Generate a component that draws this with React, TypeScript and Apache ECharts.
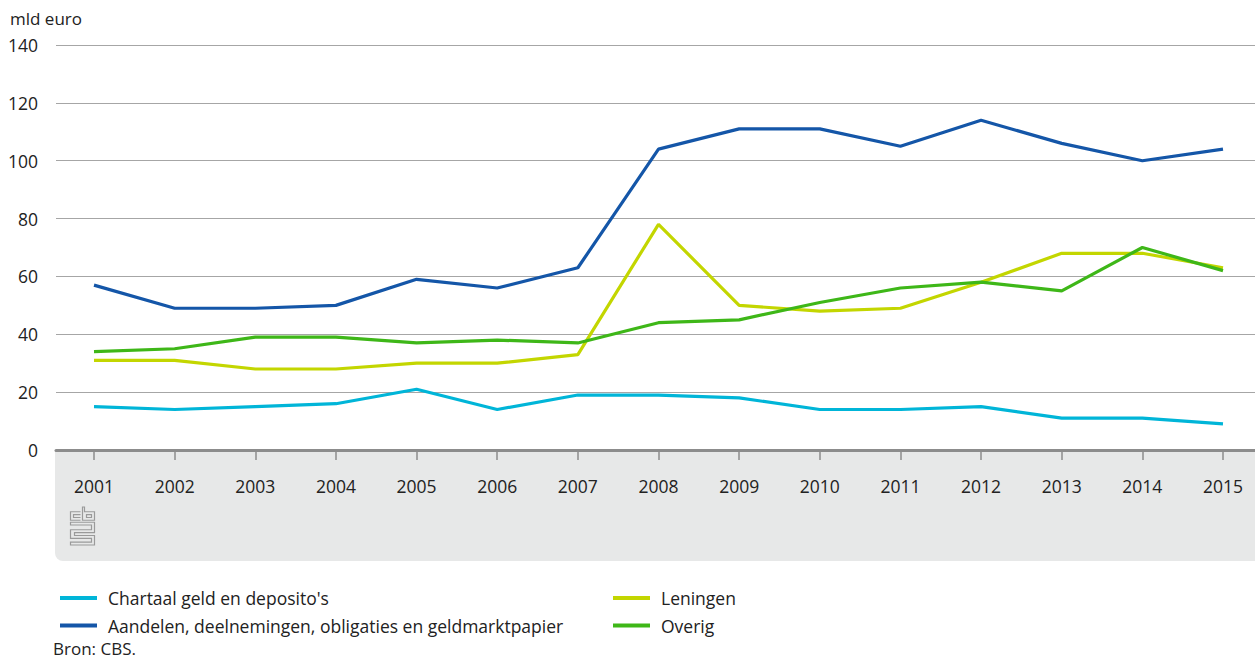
import React, { useEffect, useRef } from "react";
import * as echarts from "echarts";

const years = ["2001","2002","2003","2004","2005","2006","2007","2008","2009","2010","2011","2012","2013","2014","2015"];
const chartaal = [15, 14, 15, 16, 21, 14, 19, 19, 18, 14, 14, 15, 11, 11, 9];
const aandelen = [57, 49, 49, 50, 59, 56, 63, 104, 111, 111, 105, 114, 106, 100, 104];
const leningen = [31, 31, 28, 28, 30, 30, 33, 78, 50, 48, 49, 58, 68, 68, 63];
const overig = [34, 35, 39, 39, 37, 38, 37, 44, 45, 51, 56, 58, 55, 70, 62];
const yTicks = [0, 20, 40, 60, 80, 100, 120, 140];

const names = {
  chartaal: "Chartaal geld en deposito's",
  aandelen: "Aandelen, deelnemingen, obligaties en geldmarktpapier",
  leningen: "Leningen",
  overig: "Overig",
};
const colors = {
  chartaal: "#00b5d8",
  aandelen: "#1456a8",
  leningen: "#c3d600",
  overig: "#3eb718",
};

const FONT = "'Open Sans', 'Noto Sans', sans-serif";
const TXT = "#222";
const FS = 17.5;

let registered = false;
function registerLogo() {
  if (registered) return;
  registered = true;
  const d =
    "M10 5 H0 V14 H10 M10 8 H3 V11 H10 " +
    "M12 0 H14 V5 H24 V14 H12 Z M16 8 H21 V11 H16 Z " +
    "M0 16 H24 V27 H4 V30 H24 V40 H0 V37 H21 V33 H0 V24 H21 V19 H0 Z";
  echarts.graphic.registerShape("cbslogo", echarts.graphic.extendPath(d, {}) as any);
}

export default function App() {
  const ref = useRef<HTMLDivElement>(null);
  useEffect(() => {
    if (!ref.current) return;
    registerLogo();
    const chart = echarts.init(ref.current, undefined, { renderer: "svg" });
    const mk = (key: keyof typeof names, data: number[]) => ({
      name: names[key],
      type: "line",
      xAxisIndex: 1,
      yAxisIndex: 1,
      data,
      symbol: "none",
      lineStyle: { color: colors[key], width: 3.2 },
      itemStyle: { color: colors[key] },
      z: 5,
    });
    const legendCommon = {
      orient: "vertical",
      icon: "rect",
      itemWidth: 37,
      itemHeight: 4,
      itemGap: 9.5,
      textStyle: { fontFamily: FONT, fontSize: FS, lineHeight: 18, color: TXT, padding: [0, 0, 0, 6] },
      selectedMode: false,
    };
    chart.setOption({
      animation: false,
      textStyle: { fontFamily: FONT },
      graphic: [
        {
          type: "rect",
          shape: { x: 55, y: 450, width: 1200, height: 111, r: [0, 0, 0, 8] },
          style: { fill: "#e7e8e8" },
          z: 0,
        },
        {
          type: "cbslogo",
          x: 70.5,
          y: 507,
          scaleX: 1,
          scaleY: 0.95,
          style: { fill: "none", stroke: "#9a9a9a", lineWidth: 1.2 },
          z: 1,
        },
        {
          type: "text",
          x: 10,
          y: 18,
          style: { text: "mld euro", fontFamily: FONT, fontSize: 17, fill: TXT, verticalAlign: "middle", lineHeight: 18 },
        },
        {
          type: "text",
          x: 53,
          y: 648,
          style: { text: "Bron: CBS.", fontFamily: FONT, fontSize: 17, fill: TXT, verticalAlign: "middle", lineHeight: 15 },
        },
      ],
      legend: [
        { ...legendCommon, left: 55, top: 584, data: [names.chartaal, names.aandelen] },
        { ...legendCommon, left: 608, top: 584, data: [names.leningen, names.overig] },
      ],
      grid: [
        { left: 56, top: 45, width: 1199, height: 405 },
        { left: 94, top: 45, width: 1129, height: 405 },
      ],
      xAxis: [
        {
          gridIndex: 0,
          type: "category",
          data: years,
          boundaryGap: false,
          axisLine: { show: true, lineStyle: { color: "#8c8c8c", width: 3 } },
          axisTick: { show: false },
          axisLabel: { show: false },
          splitLine: { show: false },
          z: 3,
        },
        {
          gridIndex: 1,
          type: "category",
          data: years,
          boundaryGap: false,
          axisLine: { show: false },
          axisTick: { show: true, length: 10, lineStyle: { color: "#8c8c8c", width: 1.5 } },
          axisLabel: { show: true, margin: 27, fontFamily: FONT, fontSize: FS, color: TXT },
          splitLine: { show: false },
        },
      ],
      yAxis: [
        {
          gridIndex: 0,
          type: "value",
          min: 0,
          max: 140,
          interval: 20,
          axisLine: { show: false },
          axisTick: { show: false },
          axisLabel: {
            margin: 18,
            fontFamily: FONT,
            fontSize: FS,
            color: TXT,
            formatter: (v: number) => (yTicks.includes(v) ? String(v) : ""),
          },
          splitLine: { show: true, lineStyle: { color: "#a6a6a6", width: 1 } },
        },
        {
          gridIndex: 1,
          type: "value",
          min: 0,
          max: 140,
          interval: 20,
          show: false,
          splitLine: { show: false },
        },
      ],
      series: [
        mk("chartaal", chartaal),
        mk("aandelen", aandelen),
        mk("leningen", leningen),
        mk("overig", overig),
      ],
    });
    return () => chart.dispose();
  }, []);
  return (
    <div
      ref={ref}
      style={{ position: "fixed", left: 0, top: 0, width: 1255, height: 661, background: "#fff" }}
    />
  );
}
